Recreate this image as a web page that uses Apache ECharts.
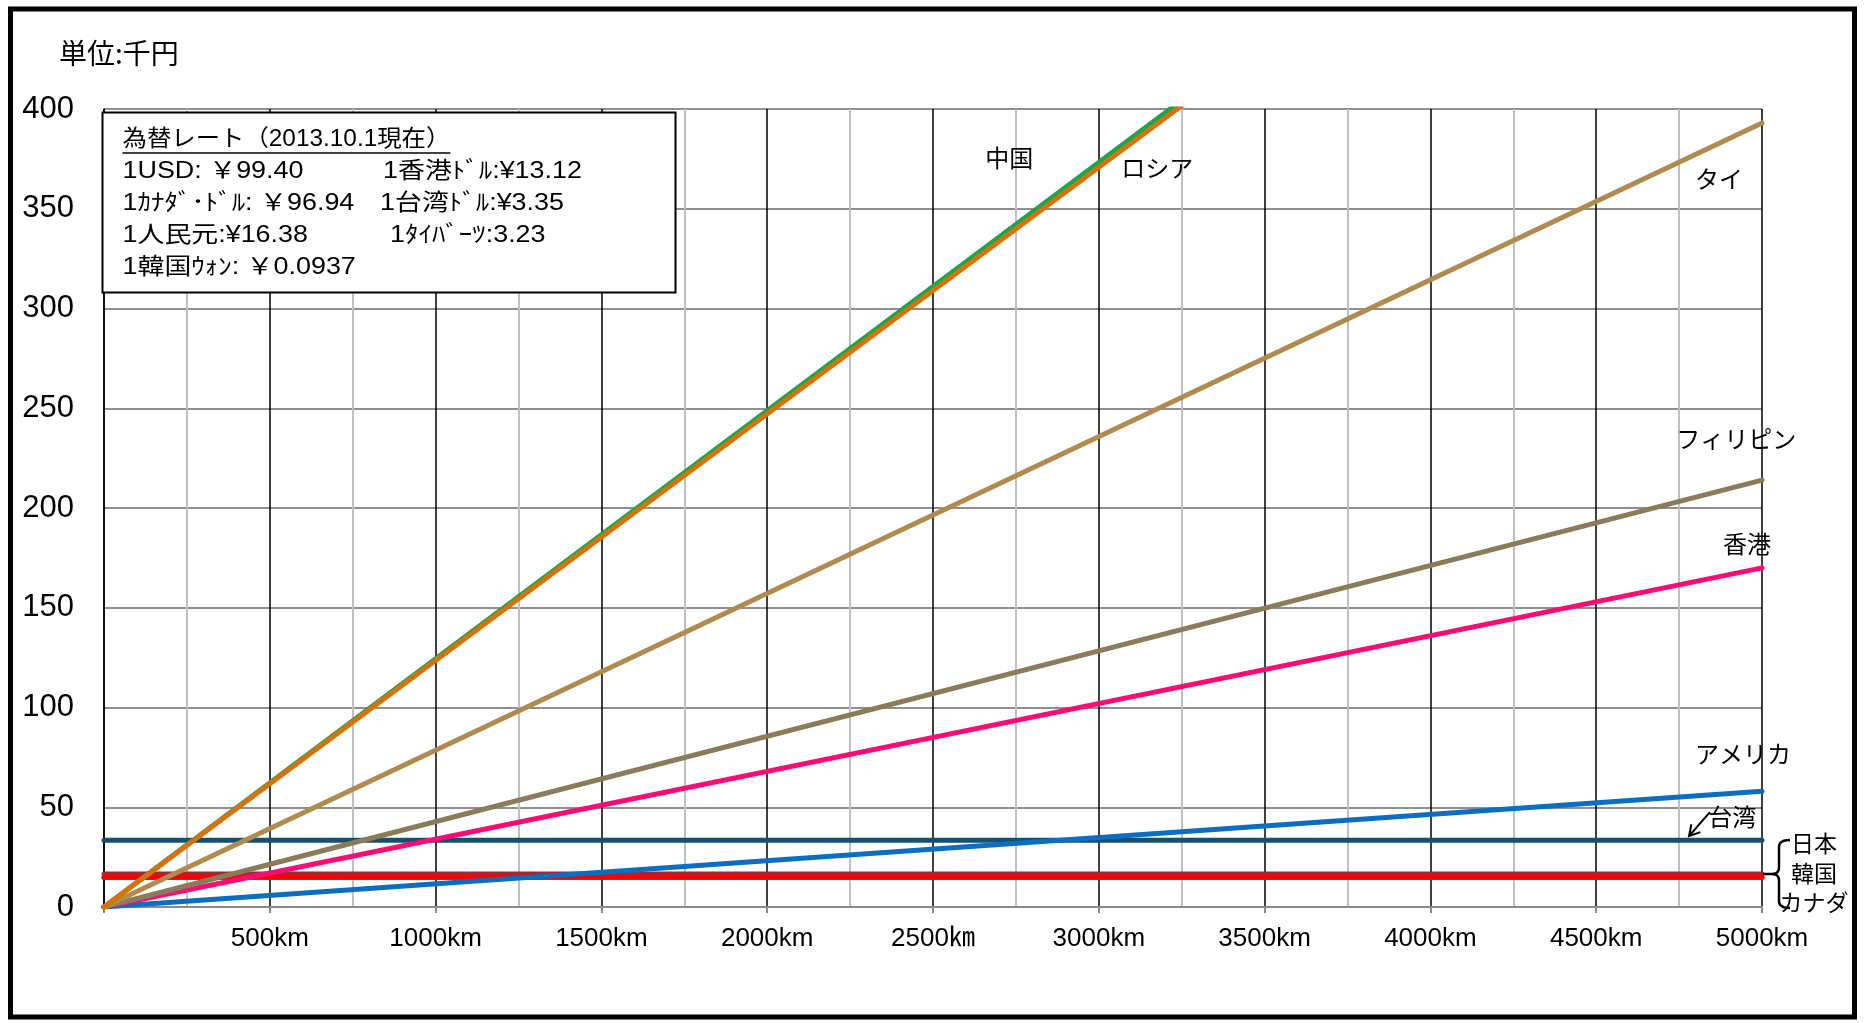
<!DOCTYPE html>
<html>
<head>
<meta charset="utf-8">
<script src="https://cdn.jsdelivr.net/npm/echarts/dist/echarts.min.js"></script>
<style>
  html, body { margin: 0; padding: 0; background: #fff; }
  #chart { width: 1865px; height: 1023px; }
</style>
</head>
<body>
<div id="chart"></div>
<script>
// Distance (km) at which each fare line is evaluated
const distanceKm = [0, 5000];

// Fares in thousand yen at 0 km and 5000 km
const chinaFare       = [0, 622];
const russiaFare      = [0, 618];
const thailandFare    = [0, 393];
const philippinesFare = [0, 214];
const hongKongFare    = [0, 170];
const usaFare         = [0, 58];
const taiwanFare      = [33.4, 33.4];
const japanFare       = [16.5, 16.5];
const koreaFare       = [14.9, 14.9];
const canadaFare      = [14.9, 14.9];

// Axis tick labels
const xTickLabels = ['', '500km', '1000km', '1500km', '2000km', '2500㎞',
                     '3000km', '3500km', '4000km', '4500km', '5000km'];
const yTicks = [0, 50, 100, 150, 200, 250, 300, 350, 400];

// Exchange-rate note
const rateTitle = '為替レート（2013.10.1現在）';
const rateNotesLeft  = ['1USD: ￥99.40', '1ｶﾅﾀﾞ･ﾄﾞﾙ: ￥96.94', '1人民元:¥16.38', '1韓国ｳｫﾝ: ￥0.0937'];
const rateNotesRight = ['1香港ﾄﾞﾙ:¥13.12', '1台湾ﾄﾞﾙ:¥3.35', '1ﾀｲﾊﾞｰﾂ:3.23'];

const seriesList = [
  { name: '日本',       values: japanFare },
  { name: '韓国',       values: koreaFare },
  { name: 'カナダ',     values: canadaFare },
  { name: '台湾',       values: taiwanFare },
  { name: 'アメリカ',   values: usaFare },
  { name: '香港',       values: hongKongFare },
  { name: 'フィリピン', values: philippinesFare },
  { name: 'タイ',       values: thailandFare },
  { name: '中国',       values: chinaFare },
  { name: 'ロシア',     values: russiaFare }
];

const lineColors = {
  '日本': '#9c2b38', '韓国': '#ff0000', 'カナダ': '#ff0000', '台湾': '#17506f',
  'アメリカ': '#0a6fc2', '香港': '#fe0a75', 'フィリピン': '#8b7b58',
  'タイ': '#b38a4d', '中国': '#1aa64a', 'ロシア': '#d97008'
};

// Where each series name is written, in axis units (km, thousand yen)
const nameAnchors = [
  { text: '中国',       at: [2730, 375.6] },
  { text: 'ロシア',     at: [3176, 370.6] },
  { text: 'タイ',       at: [4870, 365] },
  { text: 'フィリピン', at: [4922, 234.7] },
  { text: '香港',       at: [4955, 182] },
  { text: 'アメリカ',   at: [4943, 76.7] },
  { text: '台湾',       at: [4910, 45] }
];
const taiwanArrow = { from: [4843, 47.6], to: [4780, 35.6] };

const LATIN = "'Liberation Sans', Arial, 'Noto Sans CJK JP', sans-serif";
const JP = "'Noto Sans CJK JP', 'Liberation Sans', sans-serif";

const chart = echarts.init(document.getElementById('chart'), null, { renderer: 'canvas' });

const option = {
  animation: false,
  backgroundColor: '#fff',
  grid: { left: 104, top: 109, width: 1658, height: 798, containLabel: false },
  xAxis: {
    type: 'value', min: 0, max: 5000, interval: 500,
    axisLine: { show: true, lineStyle: { color: '#8a8a8a', width: 2 } },
    axisTick: { show: true, length: 6, lineStyle: { color: '#8a8a8a', width: 2 } },
    axisLabel: {
      margin: 19, fontSize: 26, color: '#000', fontFamily: LATIN,
      formatter: v => xTickLabels[Math.round(v / 500)] || ''
    },
    splitLine: { show: true, lineStyle: { color: '#000', width: 1.5 } },
    minorTick: { show: false, splitNumber: 2 },
    minorSplitLine: { show: true, lineStyle: { color: '#c0c0c0', width: 2 } }
  },
  yAxis: {
    type: 'value', min: yTicks[0], max: yTicks[yTicks.length - 1], interval: 50,
    axisLine: { show: true, lineStyle: { color: '#000', width: 1.5 } },
    axisTick: { show: false },
    axisLabel: { margin: 30, fontSize: 31, color: '#000', fontFamily: LATIN },
    splitLine: { show: true, lineStyle: { color: '#8f8f8f', width: 2 } }
  },
  series: seriesList.map(s => ({
    name: s.name,
    type: 'line',
    symbol: 'none',
    clip: true,
    data: distanceKm.map((d, i) => [d, s.values[i]]),
    lineStyle: { color: lineColors[s.name], width: 5, cap: 'round' }
  }))
};
chart.setOption(option);

// Annotations: series names, exchange-rate box, unit caption, brace and frame
const toPx = p => chart.convertToPixel({ xAxisIndex: 0, yAxisIndex: 0 }, p);

function textWidth(str, font) {
  const c = document.createElement('canvas').getContext('2d');
  c.font = font;
  return c.measureText(str).width;
}

// points along a quadratic curve, for the brace corners
function quad(p0, c, p1, n) {
  const pts = [];
  for (let i = 0; i <= n; i++) {
    const t = i / n, u = 1 - t;
    pts.push([u * u * p0[0] + 2 * u * t * c[0] + t * t * p1[0],
              u * u * p0[1] + 2 * u * t * c[1] + t * t * p1[1]]);
  }
  return pts;
}

const graphics = [];

// outer frame
graphics.push({
  type: 'rect', z: 100,
  shape: { x: 10.5, y: 9, width: 1844, height: 1008 },
  style: { fill: 'none', stroke: '#000', lineWidth: 5 }
});

// unit caption
graphics.push({
  type: 'text', z: 100, x: 59, y: 53,
  style: { text: '単位:千円', fontSize: 28, fontFamily: JP, fill: '#000', align: 'left', verticalAlign: 'middle' }
});

// series names
nameAnchors.forEach(a => {
  const p = toPx(a.at);
  graphics.push({
    type: 'text', z: 100, x: p[0], y: p[1],
    style: { text: a.text, fontSize: 24, fontFamily: JP, fill: '#000', align: 'center', verticalAlign: 'middle' }
  });
});

// arrow pointing at the Taiwan line
(function () {
  const a = toPx(taiwanArrow.from), b = toPx(taiwanArrow.to);
  const dx = a[0] - b[0], dy = a[1] - b[1], len = Math.hypot(dx, dy);
  const ux = dx / len, uy = dy / len, head = 12, ang = Math.PI / 6;
  const rot = (t) => [b[0] + head * (ux * Math.cos(t) - uy * Math.sin(t)), b[1] + head * (ux * Math.sin(t) + uy * Math.cos(t))];
  const h1 = rot(ang), h2 = rot(-ang);
  graphics.push({ type: 'polyline', z: 100, shape: { points: [a, b] }, style: { stroke: '#000', lineWidth: 2, fill: null } });
  graphics.push({ type: 'polyline', z: 100, shape: { points: [h1, b, h2] }, style: { stroke: '#000', lineWidth: 2, fill: null } });
})();

// brace grouping Japan / Korea / Canada
const braceUpper = [].concat(
  quad([1790, 840], [1779, 840], [1779, 847], 6),
  quad([1779, 867], [1779, 874], [1772, 874], 6),
  [[1763, 874]]
);
const braceLower = [].concat(
  quad([1772, 874], [1779, 874], [1779, 881], 6),
  quad([1779, 901], [1779, 908], [1790, 908], 6)
);
graphics.push({ type: 'polyline', z: 100, shape: { points: braceUpper }, style: { stroke: '#000', lineWidth: 2.5, fill: null } });
graphics.push({ type: 'polyline', z: 100, shape: { points: braceLower }, style: { stroke: '#000', lineWidth: 2.5, fill: null } });
[['日本', 843], ['韓国', 873], ['カナダ', 902]].forEach(([t, y]) => {
  graphics.push({
    type: 'text', z: 100, x: 1814, y: y,
    style: { text: t, fontSize: 23, fontFamily: JP, fill: '#000', align: 'center', verticalAlign: 'middle' }
  });
});

// exchange-rate box (text is set slightly wide, as in the printed table)
const boxFontSize = 23;
const boxFont = boxFontSize + 'px ' + LATIN;
const bodyStretch = 1.17;
const titleStretch = 1.06;
graphics.push({
  type: 'rect', z: 110,
  shape: { x: 102.5, y: 112.5, width: 573, height: 180 },
  style: { fill: '#fff', stroke: '#000', lineWidth: 2 }
});
graphics.push({
  type: 'text', z: 111, x: 122.5, y: 140, scaleX: titleStretch,
  style: { text: rateTitle, fontSize: boxFontSize, fontFamily: LATIN, fill: '#000', align: 'left', verticalAlign: 'middle' }
});
graphics.push({
  type: 'line', z: 111,
  shape: { x1: 122.5, y1: 153, x2: 122.5 + titleStretch * textWidth(rateTitle, boxFont), y2: 153 },
  style: { stroke: '#000', lineWidth: 1.5 }
});
const rowY = [172, 204, 236, 268];
const rightX = [383, 380, 390];
rateNotesLeft.forEach((t, i) => {
  graphics.push({
    type: 'text', z: 111, x: 122.5, y: rowY[i], scaleX: bodyStretch,
    style: { text: t, fontSize: boxFontSize, fontFamily: LATIN, fill: '#000', align: 'left', verticalAlign: 'middle' }
  });
});
rateNotesRight.forEach((t, i) => {
  graphics.push({
    type: 'text', z: 111, x: rightX[i], y: rowY[i], scaleX: bodyStretch,
    style: { text: t, fontSize: boxFontSize, fontFamily: LATIN, fill: '#000', align: 'left', verticalAlign: 'middle' }
  });
});

chart.setOption({ graphic: graphics });
</script>
</body>
</html>
